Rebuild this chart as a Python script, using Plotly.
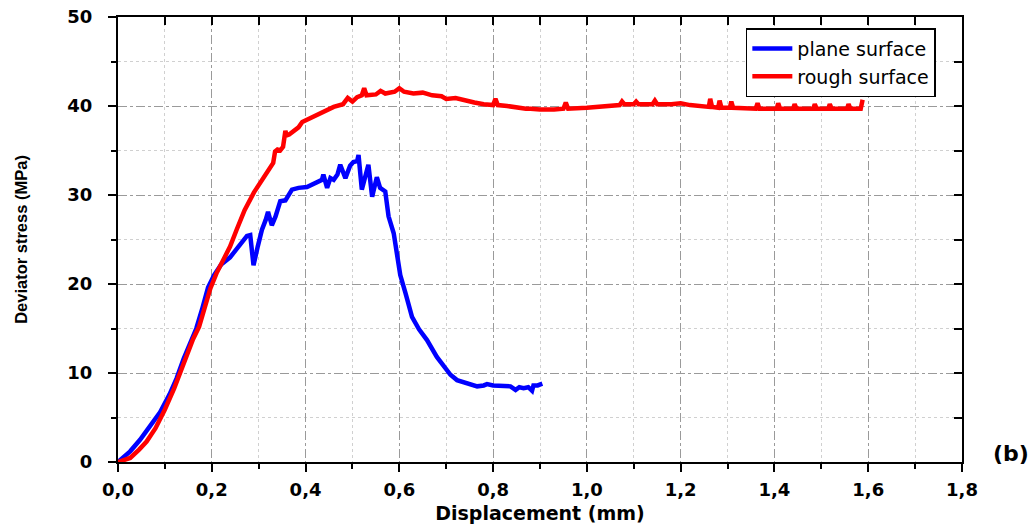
import plotly.graph_objects as go

# Data
rough_x = [0, 0.026, 0.045, 0.061, 0.08, 0.1, 0.12, 0.14, 0.16, 0.173, 0.185, 0.197, 0.21, 0.225, 0.239,
           0.253, 0.27, 0.29, 0.31, 0.331, 0.335, 0.34, 0.346, 0.352, 0.357, 0.36, 0.365, 0.375, 0.385,
           0.393, 0.41, 0.43, 0.46, 0.48, 0.49, 0.50, 0.51, 0.52, 0.525, 0.53, 0.55, 0.56, 0.57, 0.59,
           0.60, 0.61, 0.63, 0.65, 0.67, 0.69, 0.70, 0.72, 0.74, 0.76, 0.78, 0.80, 0.805, 0.81, 0.83,
           0.85, 0.87, 0.88, 0.90, 0.93, 0.95, 0.955, 0.96, 1.0, 1.02, 1.05, 1.07, 1.075, 1.08, 1.10,
           1.105, 1.11, 1.14, 1.145, 1.15, 1.18, 1.20, 1.22, 1.24, 1.26, 1.263, 1.267, 1.28, 1.283,
           1.287, 1.305, 1.308, 1.312, 1.36, 1.364, 1.368, 1.405, 1.408, 1.412, 1.44, 1.443, 1.447,
           1.483, 1.486, 1.49, 1.515, 1.518, 1.522, 1.555, 1.558, 1.562, 1.584, 1.588]
rough_y = [0, 0.45, 1.4, 2.3, 3.8, 5.9, 8.3, 11.0, 13.8, 15.2, 17.3, 19.5, 21.2, 22.8, 24.2,
           26.1, 28.3, 30.3, 32.0, 33.6, 34.9, 35.1, 35.0, 35.4, 37.2, 36.7, 36.8, 37.2, 37.6,
           38.2, 38.6, 39.1, 39.9, 40.2, 40.9, 40.5, 41.0, 41.2, 42.0, 41.2, 41.3, 41.7, 41.4, 41.6,
           42.0, 41.6, 41.4, 41.5, 41.2, 41.1, 40.8, 40.9, 40.6, 40.4, 40.2, 40.1, 40.8, 40.1, 40.0,
           39.8, 39.7, 39.7, 39.6, 39.6, 39.7, 40.4, 39.7, 39.8, 39.9, 40.0, 40.1, 40.5, 40.2, 40.2,
           40.5, 40.2, 40.2, 40.6, 40.2, 40.2, 40.3, 40.1, 40.0, 39.9, 40.8, 39.9, 39.8, 40.6,
           39.8, 39.8, 40.5, 39.8, 39.7, 40.3, 39.7, 39.7, 40.3, 39.7, 39.7, 40.2, 39.7,
           39.7, 40.2, 39.7, 39.7, 40.2, 39.7, 39.7, 40.2, 39.7, 39.7, 40.7]

plane_x = [0, 0.026, 0.047, 0.07, 0.09, 0.11, 0.125, 0.14, 0.155, 0.167, 0.18, 0.192, 0.205, 0.22,
           0.239, 0.255, 0.268, 0.275, 0.282, 0.289, 0.298, 0.307, 0.315, 0.32, 0.328, 0.336, 0.346,
           0.357, 0.371, 0.385, 0.403, 0.42, 0.435, 0.438, 0.446, 0.453, 0.46, 0.468, 0.474, 0.485,
           0.495, 0.502, 0.51, 0.513, 0.52, 0.534, 0.542, 0.552, 0.559, 0.57, 0.577, 0.588, 0.595,
           0.602, 0.613, 0.627, 0.642, 0.659, 0.68, 0.695, 0.709, 0.723, 0.745, 0.766, 0.78, 0.787,
           0.80, 0.82, 0.837, 0.848, 0.856, 0.865, 0.875, 0.883, 0.886, 0.895, 0.905]
plane_y = [0, 1.2, 2.5, 4.1, 5.6, 7.6, 9.4, 11.6, 13.4, 15.0, 17.3, 19.6, 21.0, 22.2,
           23.0, 24.0, 24.8, 25.4, 25.5, 22.1, 24.2, 26.1, 27.2, 28.1, 26.6, 27.6, 29.3,
           29.4, 30.6, 30.8, 30.9, 31.3, 31.7, 32.3, 30.8, 31.9, 31.7, 32.3, 33.4, 31.9,
           33.3, 33.7, 33.8, 34.5, 30.6, 33.4, 29.8, 32.0, 30.8, 30.4, 27.6, 25.7, 23.3,
           21.0, 19.0, 16.3, 14.9, 13.7, 11.8, 10.8, 9.8, 9.2, 8.8, 8.5, 8.6, 8.75,
           8.6, 8.55, 8.5, 8.1, 8.4, 8.3, 8.4, 8.0, 8.6, 8.6, 8.8]

x_range = [0, 1.8]
y_range = [0, 50]

WIDE = "DejaVu Sans, Verdana, sans-serif"
ARIAL = "Liberation Sans, Arial, sans-serif"

fig = go.Figure()
fig.add_trace(go.Scatter(x=plane_x, y=plane_y, mode="lines", name="plane surface",
                         line=dict(color="#0000FF", width=4.5)))
fig.add_trace(go.Scatter(x=rough_x, y=rough_y, mode="lines", name="rough surface",
                         line=dict(color="#FF0000", width=4.5)))
# dummy trace for mirrored (inside) axes
fig.add_trace(go.Scatter(x=[], y=[], xaxis="x2", yaxis="y2", showlegend=False))

grid_major = dict(showgrid=True, gridcolor="#9a9a9a", gridwidth=1, griddash="dashdot")
minor_x = dict(dtick=0.1, ticks="outside", ticklen=5, tickwidth=2, tickcolor="black",
               showgrid=True, gridcolor="#d0d0d0", griddash="dot", gridwidth=1)
minor_y = dict(dtick=5, ticks="outside", ticklen=5, tickwidth=2, tickcolor="black",
               showgrid=True, gridcolor="#d0d0d0", griddash="dot", gridwidth=1)

fig.update_layout(
    width=1035, height=528,
    margin=dict(l=118, r=73, t=17, b=66),
    paper_bgcolor="white", plot_bgcolor="white",
    separators=", ",
    showlegend=True,
    legend=dict(x=0.969, y=0.975, xanchor="right", yanchor="top",
                bgcolor="white", bordercolor="black", borderwidth=1.5,
                font=dict(family=WIDE, size=19, color="black"),
                tracegroupgap=0, itemwidth=40),
    xaxis=dict(range=x_range, dtick=0.2, tick0=0, tickformat=".1f", automargin=False,
               showline=True, linecolor="black", linewidth=2,
               ticks="outside", ticklen=8, tickwidth=2, tickcolor="black",
               ticklabelstandoff=2,
               tickfont=dict(family=WIDE, size=18, color="black", weight="bold"),
               title=dict(text="Displacement (mm)", standoff=8,
                          font=dict(family=WIDE, size=19, color="black", weight="bold")),
               zeroline=False, minor=minor_x, **grid_major),
    yaxis=dict(range=y_range, dtick=10, tick0=0, automargin=False,
               showline=True, linecolor="black", linewidth=2,
               ticks="outside", ticklen=8, tickwidth=2, tickcolor="black",
               ticklabelstandoff=12,
               tickfont=dict(family=WIDE, size=18, color="black", weight="bold"),
               title=dict(text="Deviator stress (MPa)", standoff=36,
                          font=dict(family=ARIAL, size=16.5, color="black", weight="bold")),
               zeroline=False, minor=minor_y, **grid_major),
    xaxis2=dict(range=x_range, overlaying="x", side="top", dtick=0.2, tick0=0, automargin=False,
                showline=True, linecolor="black", linewidth=2,
                ticks="inside", ticklen=8, tickwidth=2, tickcolor="black",
                showticklabels=False, showgrid=False, zeroline=False,
                minor=dict(dtick=0.1, ticks="inside", ticklen=8, tickwidth=2, tickcolor="black",
                           showgrid=False)),
    yaxis2=dict(range=y_range, overlaying="y", side="right", dtick=10, tick0=0, automargin=False,
                showline=True, linecolor="black", linewidth=2,
                ticks="inside", ticklen=8, tickwidth=2, tickcolor="black",
                showticklabels=False, showgrid=False, zeroline=False,
                minor=dict(dtick=5, ticks="inside", ticklen=8, tickwidth=2, tickcolor="black",
                           showgrid=False)),
    annotations=[dict(text="(b)", xref="paper", yref="paper", x=1.082, y=0.02,
                      xanchor="right", yanchor="middle", showarrow=False,
                      font=dict(family=WIDE, size=22, color="black", weight="bold"))],
)

fig.write_html("out.html")
